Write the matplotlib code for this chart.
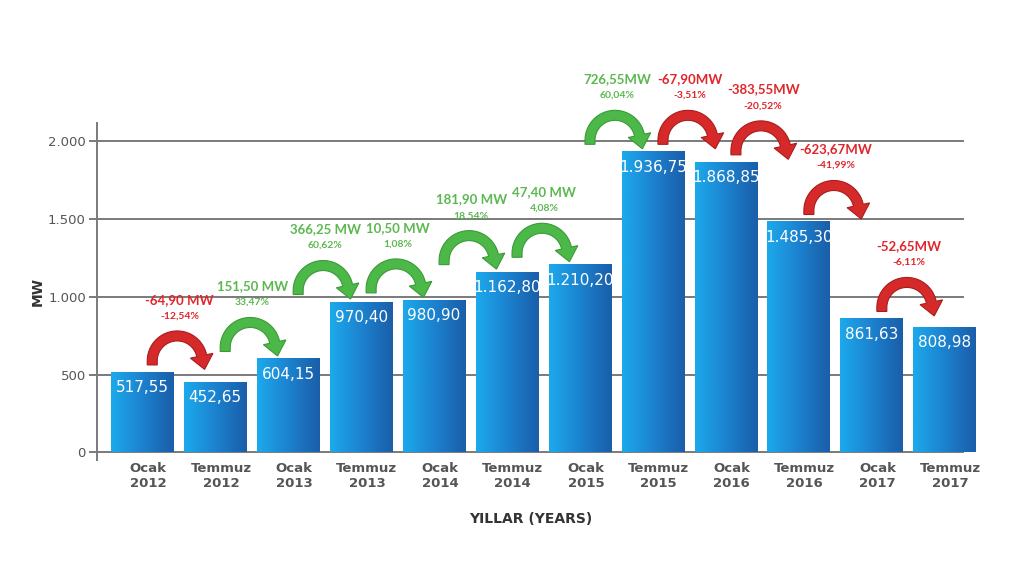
import numpy as np
import matplotlib
matplotlib.use("Agg")
import matplotlib.pyplot as plt
from matplotlib.colors import LinearSegmentedColormap
from matplotlib.patches import PathPatch
from matplotlib.path import Path
from matplotlib.transforms import ScaledTranslation

# Chart data
months = ["Ocak", "Temmuz"] * 6
years = ["2012", "2012", "2013", "2013", "2014", "2014",
         "2015", "2015", "2016", "2016", "2017", "2017"]
values = [517.55, 452.65, 604.15, 970.40, 980.90, 1162.80,
          1210.20, 1936.75, 1868.85, 1485.30, 861.63, 808.98]
change_mw = ["-64,90 MW", "151,50 MW", "366,25 MW", "10,50 MW", "181,90 MW",
             "47,40 MW", "726,55MW", "-67,90MW", "-383,55MW", "-623,67MW",
             "-52,65MW"]
change_pct = ["-12,54%", "33,47%", "60,62%", "1,08%", "18,54%", "4,08%",
              "60,04%", "-3,51%", "-20,52%", "-41,99%", "-6,11%"]
y_ticks = [0, 500, 1000, 1500, 2000]
y_tick_labels = ["0", "500", "1.000", "1.500", "2.000"]

GREEN = "#4cb848"
GREEN_EDGE = "#3a9a38"
GREEN_TXT = "#5cb850"
RED = "#d62a2a"
RED_EDGE = "#a81c1c"
RED_TXT = "#e0262b"
GRID = "#7a7a7a"
TEXT = "#555555"
DPI = 100


# Turkish number format: 1.936,75
def tr_format(v):
	s = "{:,.2f}".format(v)
	return s.replace(",", "X").replace(".", ",").replace("X", ".")


# curved "jump" arrow, built in pixels around a data anchor
def jump_arrow_path(R=25, w=10, leg=4, hw=23, hl=14, end_deg=12):
	ang = np.radians(np.linspace(180, end_deg, 40))
	outer = [((R + w / 2) * np.cos(a), leg + (R + w / 2) * np.sin(a)) for a in ang]
	inner = [((R - w / 2) * np.cos(a), leg + (R - w / 2) * np.sin(a)) for a in ang[::-1]]
	ae = np.radians(end_deg)
	c = np.array([R * np.cos(ae), leg + R * np.sin(ae)])
	radial = np.array([np.cos(ae), np.sin(ae)])
	tang = np.array([np.sin(ae), -np.cos(ae)])
	head = [tuple(c + radial * hw / 2), tuple(c + tang * hl), tuple(c - radial * hw / 2)]
	pts = [(-(R + w / 2), 0)] + outer + head + inner + [(-(R - w / 2), 0), (-(R + w / 2), 0)]
	pts = np.array(pts) / DPI
	codes = [Path.MOVETO] + [Path.LINETO] * (len(pts) - 2) + [Path.CLOSEPOLY]
	return Path(pts, codes)


fig = plt.figure(figsize=(10.23, 5.66), dpi=DPI)
ax = fig.add_axes([0.0948, 0.187, 0.848, 0.596])

x = np.arange(len(values))
ax.set_xlim(-0.62, 11.27)
ax.set_ylim(-50, 2120)

for t in y_ticks:
	ax.axhline(t, color=GRID, lw=1.4, zorder=1)

bar_cmap = LinearSegmentedColormap.from_list("bar", ["#1ca9ec", "#1c82cf", "#1a5ea9"])
grad = np.linspace(0, 1, 64).reshape(1, -1)
bars = ax.bar(x, values, width=0.86, color="none", zorder=2)
for b in bars:
	x0, y0 = b.get_x(), b.get_y()
	w, h = b.get_width(), b.get_height()
	im = ax.imshow(grad, cmap=bar_cmap, aspect="auto",
	               extent=(x0, x0 + w, y0, y0 + h), zorder=2)
	im.set_clip_path(b)

for xi, v in zip(x, values):
	ax.annotate(tr_format(v), (xi, v), xytext=(0, -6), textcoords="offset points",
	            ha="center", va="top", color="white", fontsize=11, zorder=4)

# change arrows between consecutive bars
arrow_path = jump_arrow_path()
for i in range(len(values) - 1):
	up = values[i + 1] > values[i]
	col, edge, tcol = (GREEN, GREEN_EDGE, GREEN_TXT) if up else (RED, RED_EDGE, RED_TXT)
	xm = (x[i] + x[i + 1]) / 2
	base = max(values[i], values[i + 1]) + 45
	trans = fig.dpi_scale_trans + ScaledTranslation(xm - 0.02, base, ax.transData)
	ax.add_patch(PathPatch(arrow_path, transform=trans, facecolor=col,
	                       edgecolor=edge, lw=0.8, zorder=5, clip_on=False))
	ax.text(xm + 0.01, base + 315, change_pct[i], ha="center", va="center",
	        color=tcol, fontsize=7.5, fontweight="bold", family=["Lato", "DejaVu Sans"],
	        zorder=6, clip_on=False)
	ax.text(xm + 0.01, base + 420, change_mw[i], ha="center", va="center",
	        color=tcol, fontsize=9.5, fontweight="bold", family=["Lato", "DejaVu Sans"],
	        zorder=6, clip_on=False)

ax.set_yticks(y_ticks)
ax.set_yticklabels(y_tick_labels, color=TEXT, fontsize=9.5)
ax.set_xticks(x + 0.08)
ax.set_xticklabels([m + "\n" + y for m, y in zip(months, years)],
                   color=TEXT, fontsize=9.5, fontweight="bold")
ax.tick_params(axis="y", length=6, color=GRID, width=1.4, pad=2)
ax.tick_params(axis="x", length=0, pad=1)
for s in ["top", "right", "bottom"]:
	ax.spines[s].set_visible(False)
ax.spines["left"].set_color(GRID)
ax.spines["left"].set_linewidth(1.4)

ax.set_ylabel("MW", fontsize=10, fontweight="bold", color="#333333", labelpad=2)
ax.set_xlabel("YILLAR (YEARS)", fontsize=10, fontweight="bold", color="#333333", labelpad=16)

fig.savefig("out.png", dpi=DPI)
